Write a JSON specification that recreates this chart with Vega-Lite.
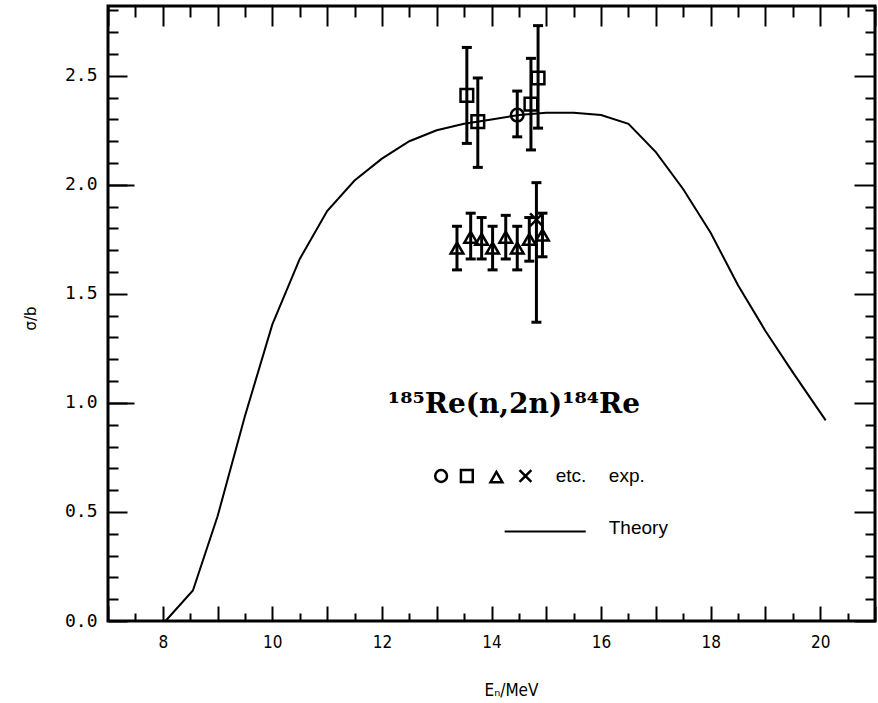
{
  "$schema": "https://vega.github.io/schema/vega-lite/v6.json",
  "width": 767,
  "height": 615,
  "autosize": {"type": "none"},
  "padding": {"left": 108, "top": 6, "right": 3, "bottom": 82},
  "background": "white",
  "config": {
    "view": {"stroke": "black", "strokeWidth": 3},
    "axis": {"domain": false, "grid": false, "tickColor": "black", "tickWidth": 2, "labelColor": "black", "titleColor": "black", "labelOverlap": false, "labelFlush": false, "labelBound": false}
  },
  "datasets": {
    "theory": [
      {"x": 8.05, "y": 0.0}, {"x": 8.55, "y": 0.14}, {"x": 9.0, "y": 0.48}, {"x": 9.5, "y": 0.94},
      {"x": 10.0, "y": 1.36}, {"x": 10.5, "y": 1.66}, {"x": 11.0, "y": 1.88}, {"x": 11.5, "y": 2.02},
      {"x": 12.0, "y": 2.12}, {"x": 12.5, "y": 2.2}, {"x": 13.0, "y": 2.25}, {"x": 13.5, "y": 2.28},
      {"x": 14.0, "y": 2.3}, {"x": 14.5, "y": 2.32}, {"x": 15.0, "y": 2.33}, {"x": 15.5, "y": 2.33},
      {"x": 16.0, "y": 2.32}, {"x": 16.5, "y": 2.28}, {"x": 17.0, "y": 2.15}, {"x": 17.5, "y": 1.98},
      {"x": 18.0, "y": 1.78}, {"x": 18.5, "y": 1.54}, {"x": 19.0, "y": 1.33}, {"x": 19.5, "y": 1.14},
      {"x": 20.1, "y": 0.92}
    ],
    "exp": [
      {"x": 13.55, "y": 2.41, "lo": 2.19, "hi": 2.63, "type": "square"},
      {"x": 13.75, "y": 2.29, "lo": 2.08, "hi": 2.49, "type": "square"},
      {"x": 14.47, "y": 2.32, "lo": 2.22, "hi": 2.43, "type": "circle"},
      {"x": 14.72, "y": 2.37, "lo": 2.16, "hi": 2.58, "type": "square"},
      {"x": 14.85, "y": 2.49, "lo": 2.26, "hi": 2.73, "type": "square"},
      {"x": 13.37, "y": 1.71, "lo": 1.61, "hi": 1.81, "type": "triangle"},
      {"x": 13.62, "y": 1.76, "lo": 1.66, "hi": 1.87, "type": "triangle"},
      {"x": 13.82, "y": 1.75, "lo": 1.66, "hi": 1.85, "type": "triangle"},
      {"x": 14.02, "y": 1.71, "lo": 1.61, "hi": 1.81, "type": "triangle"},
      {"x": 14.26, "y": 1.76, "lo": 1.66, "hi": 1.86, "type": "triangle"},
      {"x": 14.47, "y": 1.71, "lo": 1.61, "hi": 1.81, "type": "triangle"},
      {"x": 14.69, "y": 1.75, "lo": 1.65, "hi": 1.85, "type": "triangle"},
      {"x": 14.82, "y": 1.84, "lo": 1.37, "hi": 2.01, "type": "cross"},
      {"x": 14.93, "y": 1.77, "lo": 1.67, "hi": 1.87, "type": "triangle"}
    ],
    "legsym": [
      {"x": 13.08, "y": 0.665, "type": "circle"},
      {"x": 13.55, "y": 0.665, "type": "square"},
      {"x": 14.09, "y": 0.66, "type": "triangle"},
      {"x": 14.62, "y": 0.665, "type": "cross"}
    ],
    "legline": [{"x": 14.24, "y": 0.41}, {"x": 15.72, "y": 0.41}],
    "legtext": [
      {"x": 15.45, "y": 0.665, "text": "etc."},
      {"x": 16.47, "y": 0.665, "text": "exp."},
      {"x": 16.68, "y": 0.425, "text": "Theory"}
    ],
    "title": [{"x": 14.41, "y": 0.954, "text": "¹⁸⁵Re(n,2n)¹⁸⁴Re"}]
  },
  "layer": [
    {
      "layer": [
        {
          "data": {"name": "theory"},
          "mark": {"type": "line", "color": "black", "strokeWidth": 2},
          "encoding": {
            "x": {
              "field": "x", "type": "quantitative",
              "scale": {"domain": [7, 21], "nice": false, "zero": false},
              "axis": {
                "orient": "bottom",
                "values": [7, 8, 9, 10, 11, 12, 13, 14, 15, 16, 17, 18, 19, 20, 21],
                "format": "d",
                "labelExpr": "datum.value % 2 === 0 ? datum.label : ''",
                "tickSize": -15,
                "labelPadding": 28,
                "labelFont": "DejaVu Sans Condensed, Liberation Sans, sans-serif",
                "labelFontSize": 17,
                "title": "Eₙ/MeV",
                "titleFont": "DejaVu Sans Condensed, Liberation Sans, sans-serif",
                "titleFontSize": 17,
                "titleFontWeight": "normal",
                "titleX": 403,
                "titleY": 69,
                "titleBaseline": "middle"
              }
            },
            "y": {
              "field": "y", "type": "quantitative",
              "scale": {"domain": [0, 2.82], "nice": false, "zero": false},
              "axis": {
                "orient": "left",
                "values": [0, 0.5, 1, 1.5, 2, 2.5],
                "format": ".1f",
                "tickSize": -19,
                "labelPadding": 30,
                "labelFont": "DejaVu Sans Mono",
                "labelFontSize": 18,
                "title": "σ/b",
                "titleFont": "DejaVu Sans",
                "titleFontSize": 15,
                "titleFontWeight": "normal",
                "titleX": -78,
                "titleY": 312,
                "titleAngle": -90,
                "titleBaseline": "middle",
                "titleAlign": "center"
              }
            }
          }
        },
        {
          "data": {"name": "exp"},
          "mark": {"type": "rule", "color": "black", "strokeWidth": 3},
          "encoding": {
            "x": {"field": "x", "type": "quantitative"},
            "y": {"field": "lo", "type": "quantitative"},
            "y2": {"field": "hi"}
          }
        },
        {
          "data": {"name": "exp"},
          "mark": {"type": "tick", "orient": "horizontal", "color": "black", "size": 10, "thickness": 3, "opacity": 1},
          "encoding": {
            "x": {"field": "x", "type": "quantitative"},
            "y": {"field": "lo", "type": "quantitative"}
          }
        },
        {
          "data": {"name": "exp"},
          "mark": {"type": "tick", "orient": "horizontal", "color": "black", "size": 10, "thickness": 3, "opacity": 1},
          "encoding": {
            "x": {"field": "x", "type": "quantitative"},
            "y": {"field": "hi", "type": "quantitative"}
          }
        },
        {
          "data": {"name": "exp"},
          "mark": {"type": "point", "filled": false, "color": "black", "strokeWidth": 2.5, "opacity": 1, "size": 160},
          "encoding": {
            "x": {"field": "x", "type": "quantitative"},
            "y": {"field": "y", "type": "quantitative"},
            "shape": {
              "field": "type", "type": "nominal", "legend": null,
              "scale": {"domain": ["circle", "square", "triangle", "cross"], "range": ["circle", "square", "triangle-up", "M-1,-1L1,1M1,-1L-1,1"]}
            }
          }
        },
        {
          "data": {"name": "legsym"},
          "mark": {"type": "point", "filled": false, "color": "black", "strokeWidth": 2.5, "opacity": 1, "size": 140},
          "encoding": {
            "x": {"field": "x", "type": "quantitative"},
            "y": {"field": "y", "type": "quantitative"},
            "shape": {"field": "type", "type": "nominal", "legend": null}
          }
        },
        {
          "data": {"name": "legline"},
          "mark": {"type": "line", "color": "black", "strokeWidth": 2},
          "encoding": {
            "x": {"field": "x", "type": "quantitative"},
            "y": {"field": "y", "type": "quantitative"}
          }
        },
        {
          "data": {"name": "legtext"},
          "mark": {"type": "text", "color": "black", "font": "Liberation Sans", "fontSize": 19, "align": "center", "baseline": "middle"},
          "encoding": {
            "x": {"field": "x", "type": "quantitative"},
            "y": {"field": "y", "type": "quantitative"},
            "text": {"field": "text"}
          }
        },
        {
          "data": {"name": "title"},
          "mark": {"type": "text", "color": "black", "font": "DejaVu Serif", "fontSize": 28, "fontWeight": "bold", "align": "center", "baseline": "alphabetic"},
          "encoding": {
            "x": {"field": "x", "type": "quantitative"},
            "y": {"field": "y", "type": "quantitative"},
            "text": {"field": "text"}
          }
        }
      ]
    },
    {
      "data": {"name": "theory"},
      "mark": {"type": "point", "opacity": 0},
      "encoding": {
        "x": {
          "field": "x", "type": "quantitative",
          "scale": {"domain": [7, 21], "nice": false, "zero": false},
          "axis": {"orient": "bottom", "values": [7.5, 8.5, 9.5, 10.5, 11.5, 12.5, 13.5, 14.5, 15.5, 16.5, 17.5, 18.5, 19.5, 20.5], "labels": false, "title": null, "tickSize": -8}
        },
        "y": {
          "field": "y", "type": "quantitative",
          "scale": {"domain": [0, 2.82], "nice": false, "zero": false},
          "axis": {"orient": "left", "values": [0.1, 0.2, 0.3, 0.4, 0.6, 0.7, 0.8, 0.9, 1.1, 1.2, 1.3, 1.4, 1.6, 1.7, 1.8, 1.9, 2.1, 2.2, 2.3, 2.4, 2.6, 2.7, 2.8], "labels": false, "title": null, "tickSize": -10}
        }
      }
    },
    {
      "data": {"name": "theory"},
      "mark": {"type": "point", "opacity": 0},
      "encoding": {
        "x": {
          "field": "x", "type": "quantitative",
          "scale": {"domain": [7, 21], "nice": false, "zero": false},
          "axis": {"orient": "top", "values": [7, 8, 9, 10, 11, 12, 13, 14, 15, 16, 17, 18, 19, 20, 21], "labels": false, "title": null, "tickSize": -20}
        },
        "y": {
          "field": "y", "type": "quantitative",
          "scale": {"domain": [0, 2.82], "nice": false, "zero": false},
          "axis": {"orient": "right", "values": [0, 0.5, 1, 1.5, 2, 2.5], "labels": false, "title": null, "tickSize": -21}
        }
      }
    },
    {
      "data": {"name": "theory"},
      "mark": {"type": "point", "opacity": 0},
      "encoding": {
        "x": {
          "field": "x", "type": "quantitative",
          "scale": {"domain": [7, 21], "nice": false, "zero": false},
          "axis": {"orient": "top", "values": [7.5, 8.5, 9.5, 10.5, 11.5, 12.5, 13.5, 14.5, 15.5, 16.5, 17.5, 18.5, 19.5, 20.5], "labels": false, "title": null, "tickSize": -11}
        },
        "y": {
          "field": "y", "type": "quantitative",
          "scale": {"domain": [0, 2.82], "nice": false, "zero": false},
          "axis": {"orient": "right", "values": [0.1, 0.2, 0.3, 0.4, 0.6, 0.7, 0.8, 0.9, 1.1, 1.2, 1.3, 1.4, 1.6, 1.7, 1.8, 1.9, 2.1, 2.2, 2.3, 2.4, 2.6, 2.7, 2.8], "labels": false, "title": null, "tickSize": -10}
        }
      }
    },
    {
      "data": {"name": "theory"},
      "mark": {"type": "point", "opacity": 0},
      "encoding": {
        "x": {"field": "x", "type": "quantitative", "scale": {"domain": [7, 21], "nice": false, "zero": false}, "axis": null},
        "y": {
          "field": "y", "type": "quantitative",
          "scale": {"domain": [0, 2.82], "nice": false, "zero": false},
          "axis": {"orient": "left", "values": [1, 2], "labels": false, "title": null, "tickSize": -26}
        }
      }
    }
  ],
  "resolve": {
    "scale": {"x": "independent", "y": "independent"},
    "axis": {"x": "independent", "y": "independent"}
  }
}
